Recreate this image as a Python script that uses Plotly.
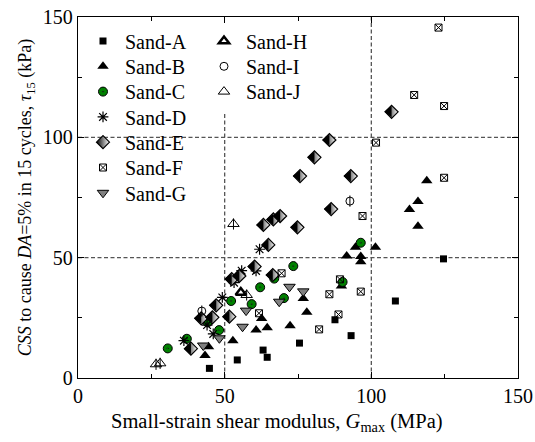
import plotly.graph_objects as go

# ---- data ----
sand_a_x = [44.8, 54.3, 63.1, 64.5, 75.5, 87.6, 93.1, 108.2, 124.6]
sand_a_y = [4.0, 7.5, 11.6, 8.6, 14.5, 24.2, 17.6, 32.0, 49.5]

sand_b_x = [43.3, 44.5, 52.8, 60.7, 62.6, 64.5, 72.3, 78.0, 76.8, 89.8, 91.6, 96.4, 96.4, 94.6, 101.4, 113.0, 115.9, 118.9, 115.9]
sand_b_y = [9.4, 13.0, 15.5, 19.9, 24.7, 20.9, 21.7, 27.3, 33.0, 38.2, 50.7, 48.3, 50.5, 54.3, 54.3, 70.0, 73.3, 82.0, 63.1]

sand_c_x = [30.6, 37.1, 44.2, 48.1, 52.2, 59.2, 62.1, 66.9, 70.2, 73.4, 90.2, 96.4]
sand_c_y = [12.3, 16.3, 23.1, 19.9, 32.0, 30.7, 37.7, 41.3, 33.2, 46.5, 39.9, 56.2]

sand_d_x = [36.1, 44.0, 46.1, 49.2, 53.2, 55.8, 60.7, 61.9]
sand_d_y = [15.5, 22.0, 18.3, 33.5, 39.6, 44.6, 44.5, 53.5]

sand_e_x = [38.5, 42.0, 45.8, 47.1, 51.6, 52.4, 55.0, 60.2, 66.4, 63.2, 66.6, 68.9, 74.8, 64.9, 75.7, 80.6, 85.7, 86.3, 93.0, 106.9]
sand_e_y = [12.2, 24.8, 25.2, 30.2, 25.5, 41.1, 42.4, 46.3, 42.8, 63.6, 65.9, 67.3, 62.6, 55.3, 83.9, 91.7, 98.9, 70.2, 83.9, 110.6]

sand_f_x = [61.7, 69.4, 82.2, 85.7, 88.8, 89.3, 96.4, 97.0, 101.6, 114.6, 122.9, 124.8, 124.8]
sand_f_y = [26.9, 43.5, 20.2, 34.8, 26.4, 41.0, 35.9, 67.3, 97.8, 117.6, 145.6, 113.0, 83.2]

sand_g_x = [42.7, 48.2, 56.1, 57.3, 68.6, 72.1, 76.8]
sand_g_y = [13.5, 16.5, 21.3, 28.0, 31.7, 37.9, 36.0]

sand_h_x = [55.5]
sand_h_y = [35.5]

sand_i_x = [42.2, 92.7]
sand_i_y = [27.8, 73.5]

sand_j_x = [26.6, 28.0, 53.0, 57.5]
sand_j_y = [5.7, 6.1, 64.0, 34.5]

x_ticks = [0, 50, 100, 150]
y_ticks = [0, 50, 100, 150]

FONT = "Liberation Serif"

# legend slots: (column, row)
legend_slots = {
    "Sand-A": (0, 0), "Sand-B": (0, 1), "Sand-C": (0, 2), "Sand-D": (0, 3),
    "Sand-E": (0, 4), "Sand-F": (0, 5), "Sand-G": (0, 6),
    "Sand-H": (1, 0), "Sand-I": (1, 1), "Sand-J": (1, 2),
}
legend_ids = {name: ("legend" if i == 0 else f"legend{i + 1}")
              for i, name in enumerate(legend_slots)}

fig = go.Figure()

def add(name, x, y, marker, show=True):
    fig.add_trace(go.Scatter(
        x=x, y=y, mode="markers", name=name, marker=marker,
        legend=legend_ids[name], showlegend=show, legendgroup=name))

add("Sand-A", sand_a_x, sand_a_y, dict(symbol="square", size=7, color="black"))
add("Sand-B", sand_b_x, sand_b_y, dict(symbol="triangle-up", size=10, color="black"))
add("Sand-C", sand_c_x, sand_c_y, dict(symbol="circle-dot", size=9, color="#008000",
                                       line=dict(color="black", width=1)))
add("Sand-D", sand_d_x, sand_d_y, dict(symbol="asterisk-open", size=9, color="black",
                                       line=dict(color="black", width=1.2)))
add("Sand-E", sand_e_x, sand_e_y, dict(symbol="diamond", size=10, color="black",
                                       gradient=dict(type="horizontal", color="white"),
                                       line=dict(color="black", width=1.2)))
add("Sand-E", sand_e_x, sand_e_y, dict(symbol="triangle-down", size=9.6, color="black",
                                       angle=90, standoff=2.4,
                                       line=dict(color="black", width=0)), show=False)
add("Sand-F", sand_f_x, sand_f_y, dict(symbol="square-x-open", size=7, color="black",
                                       line=dict(color="black", width=1)))
add("Sand-G", sand_g_x, sand_g_y, dict(symbol="triangle-down", size=10, color="#808080",
                                       line=dict(color="black", width=1)))
add("Sand-H", sand_h_x, sand_h_y, dict(symbol="triangle-up-open", size=9, color="black",
                                       line=dict(color="black", width=2.5)))
add("Sand-I", sand_i_x, sand_i_y, dict(symbol="circle-open", size=8, color="black",
                                       line=dict(color="black", width=1)))
add("Sand-I", sand_i_x, sand_i_y, dict(symbol="line-ns-open", size=8, color="black",
                                       line=dict(color="black", width=1)), show=False)
add("Sand-J", sand_j_x, sand_j_y, dict(symbol="triangle-up-open", size=10, color="black",
                                       line=dict(color="black", width=1)))
add("Sand-J", sand_j_x, sand_j_y, dict(symbol="line-ns-open", size=8, color="black",
                                       line=dict(color="black", width=1)), show=False)

dash = dict(color="#555555", width=1.3, dash="4px,2.5px")
fig.add_shape(type="line", x0=0, x1=150, y0=50, y1=50, line=dash, layer="below")
fig.add_shape(type="line", x0=0, x1=150, y0=100, y1=100, line=dash, layer="below")
fig.add_shape(type="line", x0=100, x1=100, y0=0, y1=150, line=dash, layer="below")
fig.add_shape(type="line", x0=50, x1=50, y0=0, y1=110, line=dash, layer="below")

axis_common = dict(
    showgrid=False, zeroline=False, showline=True, linecolor="black", linewidth=1.3,
    mirror="ticks", ticks="inside", ticklen=6, tickwidth=1.2, tickcolor="black",
    tickfont=dict(family=FONT, size=20, color="black"), automargin=False,
    minor=dict(ticks="inside", ticklen=4, tickwidth=1.1, tickcolor="black", dtick=25),
)

fig.update_xaxes(range=[0, 150], tickvals=x_ticks, **axis_common)
fig.update_yaxes(range=[0, 150], tickvals=y_ticks, **axis_common,
                 title=dict(text="<i>CSS</i> to cause <i>DA</i>=5% in 15 cycles, <i>τ</i><sub>15</sub> (kPa)",
                            font=dict(family=FONT, size=18, color="black"), standoff=6))

# x-axis title as an annotation (reference title is centred left of the plot centre)
fig.add_annotation(
    text="Small-strain shear modulus, <i>G</i><sub>max</sub> (MPa)",
    xref="paper", yref="paper", x=(277 - 78) / 440, y=(378 - 423) / 361,
    xanchor="center", yanchor="middle", showarrow=False,
    font=dict(family=FONT, size=20.5, color="black"))

# plot area in pixels: x 78..518, y 17..378
col_x = [(81 - 78) / 440, (202 - 78) / 440]
row_y0, row_dy = 41.0, 25.3
legends = {}
for name, (c, r) in legend_slots.items():
    py = row_y0 + r * row_dy
    legends[legend_ids[name]] = dict(
        x=col_x[c], y=(378 - py) / 361, xanchor="left", yanchor="middle",
        font=dict(family=FONT, size=20, color="black"), bgcolor="rgba(0,0,0,0)",
        itemwidth=34)

fig.update_layout(
    width=535, height=442,
    margin=dict(l=78, r=17, t=17, b=64),
    paper_bgcolor="white", plot_bgcolor="white",
    font=dict(family=FONT, color="black"),
    **legends,
)

fig.write_html("out.html", config={"displayModeBar": False},
               post_script="document.body.style.margin='0';document.body.style.overflow='hidden';")
